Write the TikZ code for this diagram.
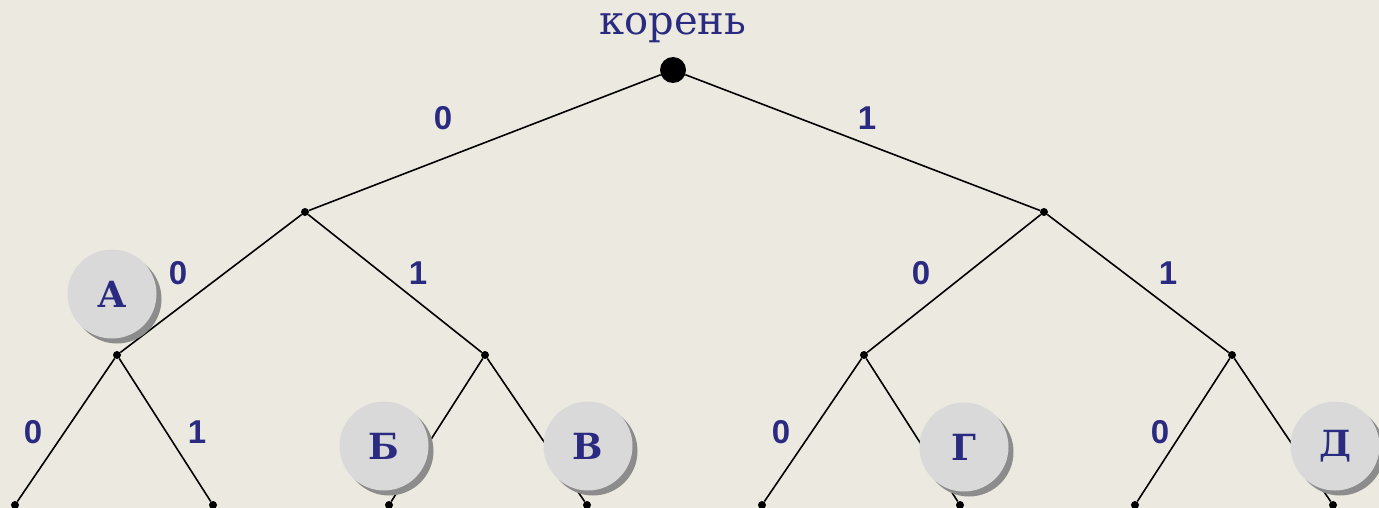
\documentclass[tikz,border=0pt]{standalone}
\usepackage{fontspec}
\usetikzlibrary{shadows}
\newfontfamily\slabfnt{DejaVu Serif}
\newfontfamily\sansfnt{Liberation Sans}
\definecolor{bg}{RGB}{236,234,224}
\definecolor{ink}{RGB}{42,42,128}
\definecolor{disc}{RGB}{217,217,217}
\definecolor{discshadow}{RGB}{140,140,140}
\tikzset{
  dot/.style={circle, fill=black, inner sep=0pt, minimum size=8pt},
  rootdot/.style={circle, fill=black, inner sep=0pt, minimum size=26pt},
  edge/.style={draw=black, line width=1.6pt},
  bit/.style={text=ink, font=\sansfnt\bfseries\fontsize{33}{33}\selectfont, inner sep=0pt},
  letterbox/.style={circle, fill=disc, inner sep=0pt, minimum size=89pt,
    text=ink, font=\slabfnt\bfseries\fontsize{36}{36}\selectfont,
    drop shadow={shadow xshift=5pt, shadow yshift=-5pt, fill=discshadow, opacity=1}},
  rootlabel/.style={text=ink, font=\slabfnt\fontsize{40}{40}\selectfont, inner sep=0pt}
}
\begin{document}
\begin{tikzpicture}[x=1pt,y=-1pt]
\useasboundingbox (0,0) rectangle (1379,508);
\fill[bg] (0,0) rectangle (1379,508);
% nodes
\node[rootdot] (r) at (673,70) {};
\node[rootlabel, anchor=base] (rl) at (673,35) {корень};
\node[dot] (n0) at (305,212) {};
\node[dot] (n1) at (1044,212) {};
\node[dot] (n00) at (117,355) {};
\node[dot] (n01) at (485,355) {};
\node[dot] (n10) at (864,355) {};
\node[dot] (n11) at (1232,355) {};
\node[dot] (l1) at (15,505) {};
\node[dot] (l2) at (213,505) {};
\node[dot] (l3) at (389,505) {};
\node[dot] (l4) at (587,505) {};
\node[dot] (l5) at (762,505) {};
\node[dot] (l6) at (960,505) {};
\node[dot] (l7) at (1135,505) {};
\node[dot] (l8) at (1333,505) {};
% edges
\draw[edge] (r) -- (n0);
\draw[edge] (r) -- (n1);
\draw[edge] (n0) -- (n00);
\draw[edge] (n0) -- (n01);
\draw[edge] (n1) -- (n10);
\draw[edge] (n1) -- (n11);
\draw[edge] (n00) -- (l1);
\draw[edge] (n00) -- (l2);
\draw[edge] (n01) -- (l3);
\draw[edge] (n01) -- (l4);
\draw[edge] (n10) -- (l5);
\draw[edge] (n10) -- (l6);
\draw[edge] (n11) -- (l7);
\draw[edge] (n11) -- (l8);
% bit labels
\node[bit] (b1) at (443,118) {0};
\node[bit] (b2) at (867,118) {1};
\node[bit] (b3) at (178,273) {0};
\node[bit] (b4) at (418,273) {1};
\node[bit] (b5) at (921,273) {0};
\node[bit] (b6) at (1168,273) {1};
\node[bit] (b7) at (33,432) {0};
\node[bit] (b8) at (197,432) {1};
\node[bit] (b9) at (781,432) {0};
\node[bit] (b10) at (1160,432) {0};
% letter discs
\node[letterbox] (cA) at (112,294) {А};
\node[letterbox] (cB) at (384,446) {Б};
\node[letterbox] (cV) at (588,446) {В};
\node[letterbox] (cG) at (964,447) {Г};
\node[letterbox] (cD) at (1335,446) {Д};
\end{tikzpicture}
\end{document}
